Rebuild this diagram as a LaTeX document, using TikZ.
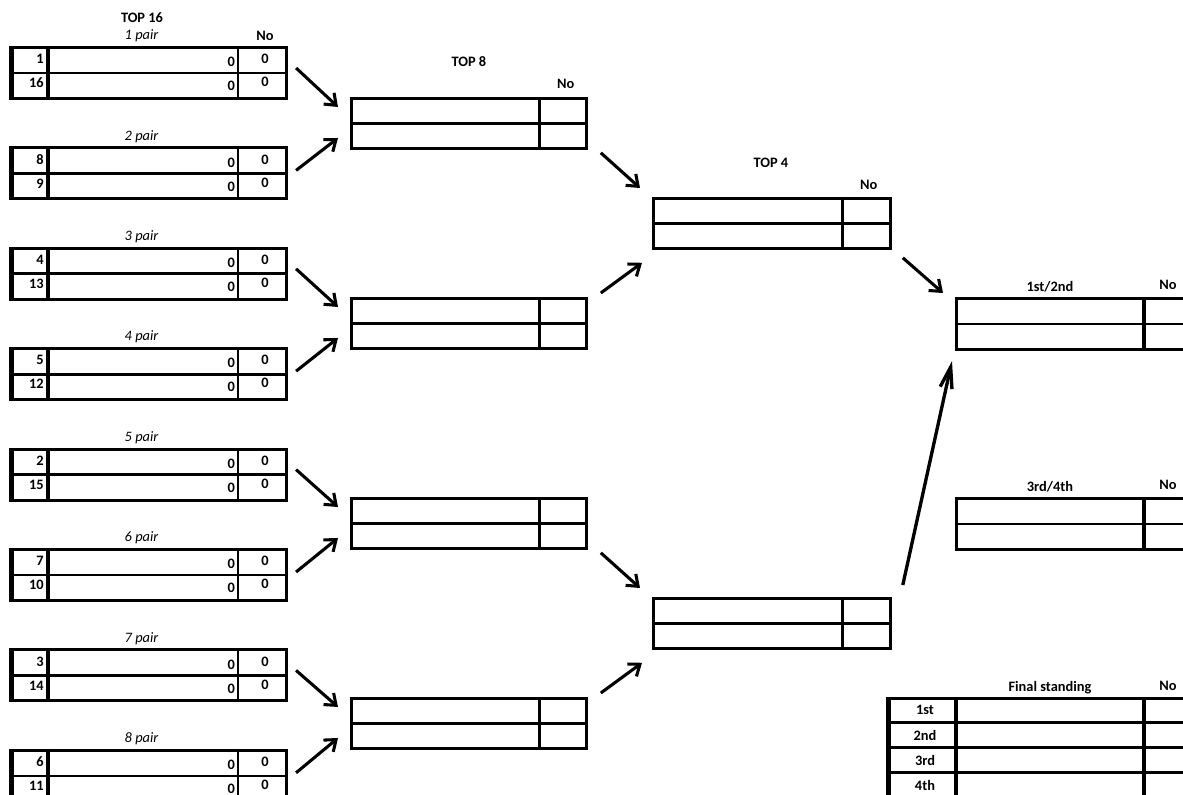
\documentclass[tikz,border=0pt]{standalone}
\usepackage{fontspec}
\setmainfont{Carlito}
\usetikzlibrary{calc}
\usetikzlibrary{arrows.meta}
\tikzset{
	box16/.style={draw, line width=2.3pt, anchor=north west, inner sep=0pt, minimum width=205.5pt, minimum height=38.25pt},
	box8/.style={box16, line width=2.1pt, minimum width=176.25pt, minimum height=37.5pt},
	box4/.style={box8, minimum width=177.75pt},
	boxfin/.style={box16, minimum width=195pt},
	boxstand/.style={box16, minimum width=247.5pt, minimum height=96pt},
	midline/.style={line width=2pt},
	thickline/.style={line width=2.3pt},
	leftline/.style={line width=3.6pt},
	lbl/.style={inner sep=0pt, font=\fontsize{10.8}{12}\selectfont\bfseries},
	plbl/.style={inner sep=0pt, font=\fontsize{10.8}{12}\selectfont\itshape},
	arr/.style={line width=2.3pt, -{Straight Barb[length=7.5pt,width=11.5pt]}},
}
\begin{document}
\begin{tikzpicture}[x=0.75pt,y=-0.75pt]
	\useasboundingbox (0,0) rectangle (1183,795);
	\clip (0,0) rectangle (1183,795);
	% top 16
	\node[lbl] (h16) at (142,18) {TOP 16};
	\foreach \i/\sa/\sb in {1/1/16,2/8/9,3/4/13,4/5/12,5/2/15,6/7/10,7/3/14,8/6/11}{
		\node[box16] (p\i) at (11,{46+100.4*(\i-1)}) {};
		\draw[leftline] (p\i.north west) -- (p\i.south west);
		\draw[midline] (p\i.west) -- (p\i.east);
		\draw[thickline] ($(p\i.north west)+(37,0)$) -- ($(p\i.south west)+(37,0)$);
		\draw[midline] ($(p\i.north east)+(-50,0)$) -- ($(p\i.south east)+(-50,0)$);
		\node[plbl] (t\i) at ($(p\i.north)+(-8,-10)$) {\i\ pair};
		\node[lbl,anchor=east] (sa\i) at ($(p\i.north west)+(33,13)$) {\sa};
		\node[lbl,anchor=east] (sb\i) at ($(p\i.north west)+(33,37)$) {\sb};
		\node[lbl,anchor=east] (za\i) at ($(p\i.north east)+(-53,16)$) {0};
		\node[lbl,anchor=east] (zb\i) at ($(p\i.north east)+(-53,40)$) {0};
		\node[lbl] (na\i) at ($(p\i.north east)+(-23,13)$) {0};
		\node[lbl] (nb\i) at ($(p\i.north east)+(-23,36)$) {0};
	}
	\node[lbl] (no16) at ($(p1.north east)+(-23,-10)$) {No};
	% top 8
	\foreach \k in {1,...,4}{
		\node[box8] (q\k) at (350,{97+200*(\k-1)}) {};
		\draw[midline] (q\k.west) -- (q\k.east);
		\draw[midline] ($(q\k.north east)+(-48,0)$) -- ($(q\k.south east)+(-48,0)$);
		\pgfmathtruncatemacro\a{2*\k-1}
		\pgfmathtruncatemacro\b{2*\k}
		\draw[arr] ($(p\a.north east)+(8,22)$) -- ($(q\k.north west)+(-12,10)$);
		\draw[arr] ($(p\b.north east)+(8,24)$) -- ($(q\k.north west)+(-12,41)$);
	}
	\node[lbl] (h8) at ($(q1.north)+(0,-35)$) {TOP 8};
	\node[lbl] (no8) at ($(q1.north east)+(-22,-13)$) {No};
	% top 4
	\foreach \k/\a/\b in {1/1/2,2/3/4}{
		\node[box4] (r\k) at (652,{197+400*(\k-1)}) {};
		\draw[midline] (r\k.west) -- (r\k.east);
		\draw[midline] ($(r\k.north east)+(-49,0)$) -- ($(r\k.south east)+(-49,0)$);
		\draw[arr] ($(q\a.south east)+(13,3)$) -- ($(r\k.north west)+(-12,-9)$);
		\draw[arr] ($(q\b.north east)+(13,-4)$) -- ($(r\k.south west)+(-10,13)$);
	}
	\node[lbl] (h4) at ($(r1.north)+(-1,-34)$) {TOP 4};
	\node[lbl] (no4) at ($(r1.north east)+(-23,-12)$) {No};
	% finals
	\foreach \k/\txt in {1/1st\slash 2nd,2/3rd\slash 4th}{
		\node[boxfin] (f\k) at (955,{297+200*(\k-1)}) {};
		\draw[midline] (f\k.west) -- (f\k.east);
		\draw[thickline] ($(f\k.north west)+(189,0)$) -- ($(f\k.south west)+(189,0)$);
		\node[lbl] (fh\k) at ($(f\k.north west)+(95,-10)$) {\txt};
		\node[lbl] (fn\k) at ($(f\k.north west)+(213,-12)$) {No};
	}
	\draw[arr] ($(r1.south east)+(11,8)$) -- ($(f1.north west)+(-12,-4)$);
	\draw[line width=2.5pt, -{Straight Barb[length=16pt,width=9pt]}] ($(r2.north east)+(11,-12)$) -- ($(f1.south west)+(-3,10)$);
	% final standing
	\node[boxstand] (g) at (888,697) {};
	\draw[leftline] (g.north west) -- (g.south west);
	\draw[thickline] ($(g.north west)+(68,0)$) -- ($(g.south west)+(68,0)$);
	\draw[thickline] ($(g.north west)+(256,0)$) -- ($(g.south west)+(256,0)$);
	\foreach \k/\pl in {1/1st,2/2nd,3/3rd,4/4th}{
		\draw[thickline] ($(g.north west)+(0,{25.3*\k})$) -- ($(g.north east)+(0,{25.3*\k})$);
		\node[lbl] (gl\k) at ($(g.north west)+(37,{13+25*(\k-1)})$) {\pl};
	}
	\node[lbl] (gh) at ($(g.north west)+(162,-9)$) {Final standing};
	\node[lbl] (gn) at ($(g.north west)+(280,-11)$) {No};
\end{tikzpicture}
\end{document}
